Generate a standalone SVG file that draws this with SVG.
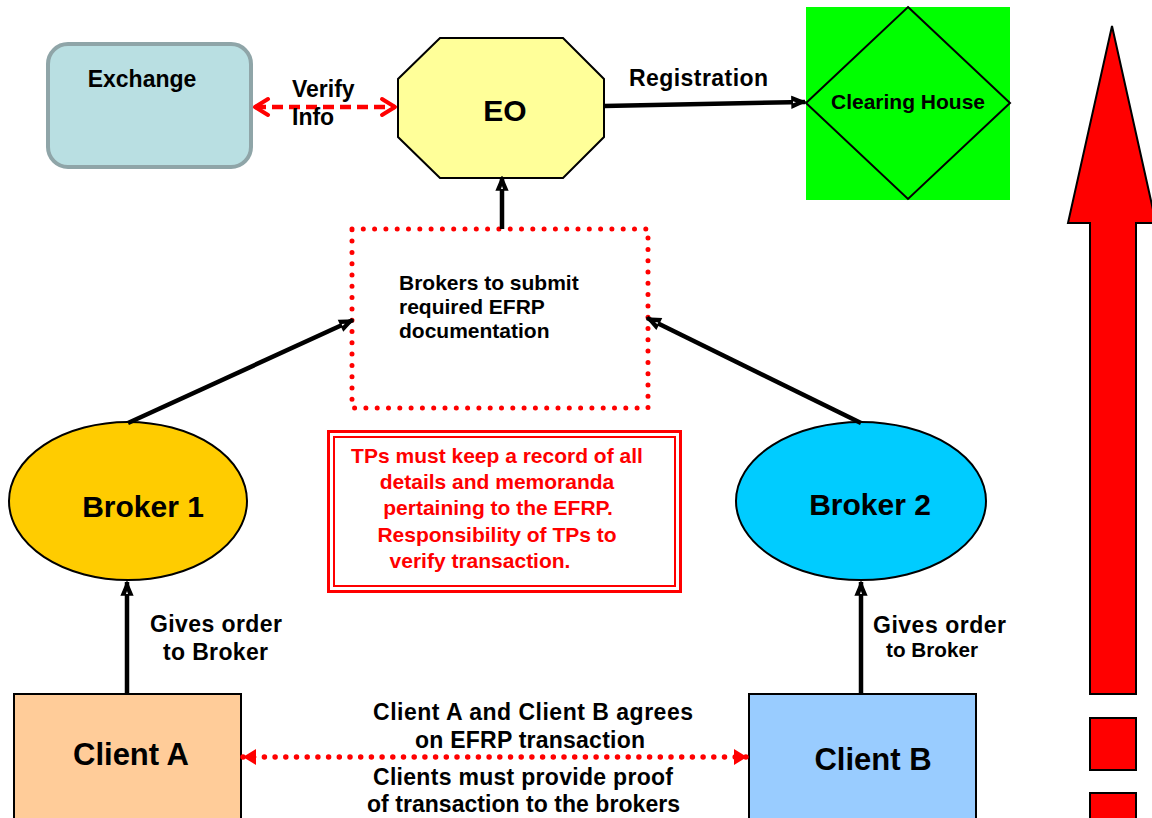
<svg xmlns="http://www.w3.org/2000/svg" width="1152" height="818" viewBox="0 0 1152 818">
<defs>
<style>
text{font-family:"Liberation Sans",Arial,sans-serif;font-weight:bold;fill:#000}
.red{fill:#ff0000}
.conn{stroke:#000;stroke-width:4.5;fill:none}
.ol{stroke:#000;stroke-width:2}
</style>
<marker id="ah" markerUnits="userSpaceOnUse" markerWidth="16" markerHeight="14" viewBox="0 0 16 14" refX="15" refY="7" orient="auto">
<path d="M2,1.5 L15,7 L2,12.5 Z" fill="#000" stroke="#000" stroke-width="1.5"/>
<path d="M3,6 L6,7 L3,8 Z" fill="#fff"/>
</marker>
<marker id="chev" markerUnits="userSpaceOnUse" markerWidth="20" markerHeight="22" viewBox="0 0 20 22" refX="17" refY="11" orient="auto-start-reverse">
<path d="M4,3 L17,11 L4,19" fill="none" stroke="#ff0000" stroke-width="4" stroke-linecap="round" stroke-linejoin="round"/>
</marker>
<marker id="tri" markerUnits="userSpaceOnUse" markerWidth="14" markerHeight="18" viewBox="0 0 14 18" refX="13" refY="9" orient="auto-start-reverse">
<path d="M0,1 L13,9 L0,17 Z" fill="#ff0000"/>
</marker>
</defs>

<g id="exchange">
<rect x="48" y="44" width="203" height="123" rx="20" ry="20" fill="#b9dfe2" stroke="#8fa5a8" stroke-width="4"/>
<text x="142" y="87" font-size="23" text-anchor="middle">Exchange</text>
</g>

<g id="eo">
<polygon points="440,38 563,38 604,79 604,137 563,178 440,178 398,137 398,79" fill="#ffff99" class="ol"/>
<text x="505" y="121" font-size="30" text-anchor="middle">EO</text>
</g>

<g id="clearing-house">
<rect x="806" y="7" width="204" height="193" fill="#00ff00"/>
<polygon points="908,7 1010,103 908,199 806,103" fill="none" class="ol"/>
<text x="908" y="109" font-size="21" text-anchor="middle">Clearing House</text>
</g>

<g id="big-arrow">
<polygon points="1112,26 1156,223 1136,223 1136,694 1090,694 1090,223 1068,223" fill="#ff0000" stroke="#000" stroke-width="2"/>
<rect x="1090" y="718" width="46" height="52" fill="#ff0000" stroke="#000" stroke-width="2"/>
<rect x="1090" y="793" width="46" height="40" fill="#ff0000" stroke="#000" stroke-width="2"/>
</g>

<g id="docs-box">
<rect x="352" y="229" width="296" height="179" fill="#fff" stroke="#ff0000" stroke-width="5" stroke-dasharray="0 11.3" stroke-linecap="round"/>
<text x="399" y="290" font-size="21">Brokers to submit</text>
<text x="399" y="314" font-size="21">required EFRP</text>
<text x="399" y="338" font-size="21">documentation</text>
</g>

<g id="tps-note">
<rect x="328.5" y="431.5" width="352" height="160" fill="#fff" stroke="#ff0000" stroke-width="3"/>
<rect x="334" y="437" width="341" height="149" fill="none" stroke="#ff0000" stroke-width="2"/>
<text class="red" x="497" y="463" font-size="21" text-anchor="middle">TPs must keep a record of all</text>
<text class="red" x="497" y="489" font-size="21" text-anchor="middle">details and memoranda</text>
<text class="red" x="498" y="515" font-size="21" text-anchor="middle">pertaining to the EFRP.</text>
<text class="red" x="497" y="542" font-size="21" text-anchor="middle">Responsibility of TPs to</text>
<text class="red" x="480" y="568" font-size="21" text-anchor="middle">verify transaction.</text>
</g>

<g id="broker1">
<ellipse cx="128" cy="501" rx="119" ry="79" fill="#ffcc00" class="ol"/>
<text x="143" y="517" font-size="30" text-anchor="middle">Broker 1</text>
</g>

<g id="broker2">
<ellipse cx="861" cy="501" rx="125" ry="79" fill="#00ccff" class="ol"/>
<text x="870" y="515" font-size="30" text-anchor="middle">Broker 2</text>
</g>

<g id="client-a">
<rect x="14" y="694" width="227" height="140" fill="#ffcc99" class="ol"/>
<text x="131" y="765" font-size="31" text-anchor="middle">Client A</text>
</g>

<g id="client-b">
<rect x="749" y="694" width="227" height="140" fill="#99ccff" class="ol"/>
<text x="873" y="770" font-size="31" text-anchor="middle">Client B</text>
</g>

<g id="connectors">
<line x1="255" y1="107" x2="395" y2="107" stroke="#ff0000" stroke-width="4.5" stroke-dasharray="11 6" marker-start="url(#chev)" marker-end="url(#chev)"/>
<text x="292" y="97" font-size="23">Verify</text>
<text x="292" y="125" font-size="23">Info</text>

<line x1="604" y1="106" x2="805" y2="102" class="conn" marker-end="url(#ah)"/>
<text x="629" y="86" font-size="23" textLength="139">Registration</text>

<line x1="502" y1="229" x2="502" y2="177" class="conn" marker-end="url(#ah)"/>

<line x1="128" y1="423" x2="353" y2="320" class="conn" marker-end="url(#ah)"/>
<line x1="861" y1="423" x2="647" y2="318" class="conn" marker-end="url(#ah)"/>

<line x1="127" y1="694" x2="127" y2="582" class="conn" marker-end="url(#ah)"/>
<text x="150" y="632" font-size="23" textLength="132">Gives order</text>
<text x="163" y="660" font-size="23" textLength="105">to Broker</text>

<line x1="861" y1="694" x2="861" y2="582" class="conn" marker-end="url(#ah)"/>
<text x="873" y="633" font-size="23" textLength="133">Gives order</text>
<text x="886" y="657" font-size="20.7" textLength="92">to Broker</text>

<line x1="243" y1="757" x2="747" y2="757" stroke="#ff0000" stroke-width="5.5" stroke-dasharray="0 10.7" stroke-linecap="round" marker-start="url(#tri)" marker-end="url(#tri)"/>
<text x="373" y="720" font-size="23" textLength="320">Client A and Client B agrees</text>
<text x="415" y="748" font-size="23" textLength="230">on EFRP transaction</text>
<text x="373" y="785" font-size="23" textLength="300">Clients must provide proof</text>
<text x="367" y="812" font-size="23" textLength="313">of transaction to the brokers</text>
</g>
</svg>
